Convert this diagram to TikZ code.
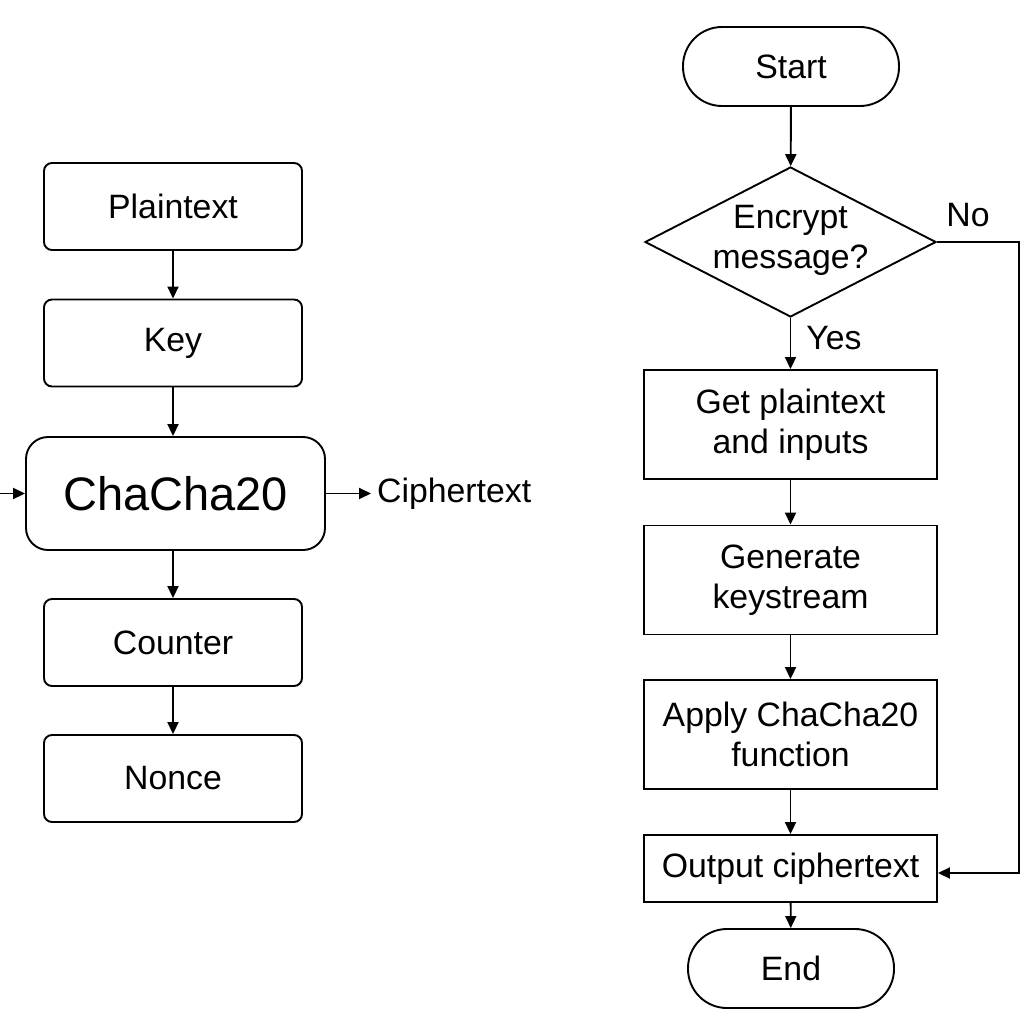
\documentclass[tikz,border=0pt]{standalone}
\usepackage{fontspec}
\setmainfont{Liberation Sans}
\usetikzlibrary{arrows.meta,shapes.geometric}
\begin{document}
\begin{tikzpicture}[x=1pt,y=-1pt,
  every node/.style={font=\fontsize{33.8}{40}\selectfont, text=black},
  box/.style={draw, line width=1.9pt, minimum width=258pt, minimum height=87pt, inner sep=0pt, rounded corners=8pt},
  proc/.style={draw, line width=1.9pt, minimum width=293pt, minimum height=109pt, inner sep=0pt, align=center},
  term/.style={draw, line width=1.9pt, minimum height=79pt, inner sep=0pt, rounded corners=39pt},
  arr/.style={line width=1.9pt, -{Triangle[length=12pt,width=11pt]}}
]
\useasboundingbox (0,0) rectangle (1024,1024);
% left chain
\node[box] (pt) at (173,206.5) {Plaintext};
\node[box] (key) at (173,343) {Key};
\node[draw, line width=1.9pt, minimum width=299pt, minimum height=113pt, inner sep=0pt, rounded corners=22pt, font=\fontsize{47}{50}\selectfont] (cc) at (175.5,493.5) {ChaCha20};
\node[box] (ctr) at (173,642.5) {Counter};
\node[box] (non) at (173,778.5) {Nonce};
\coordinate (lin) at (0,493.5);
\node[anchor=west, inner sep=0pt] (ct) at (377,493.5) {Ciphertext};
\draw[arr] (pt) -- (key);
\draw[arr] (key) -- (key |- cc.north);
\draw[arr] (key |- cc.south) -- (ctr);
\draw[arr] (ctr) -- (non);
\draw[arr] (lin) -- (cc.west);
\draw[arr] (cc.east) -- ([xshift=-6pt]ct.west);
% right flowchart
\node[term, minimum width=216pt] (start) at (791,66.5) {Start};
\node[draw, line width=1.9pt, shape=diamond, minimum width=291pt, minimum height=150pt, inner sep=0pt] (dec) at (790.5,242) {};
\node[align=center, inner sep=0pt] (dect) at (790.5,240) {Encrypt\\message?};
\node[proc] (g1) at (790.5,424.5) {Get plaintext\\and inputs};
\node[proc] (g2) at (790.5,580) {Generate\\keystream};
\node[proc] (g3) at (790.5,734.5) {Apply ChaCha20\\function};
\node[proc, minimum height=67pt] (out) at (790.5,868.5) {Output ciphertext};
\node[term, minimum width=206pt] (end) at (791,968.5) {End};
\coordinate (nr) at (1019,242);
\coordinate (nd) at (1019,873);
\draw[arr] (start) -- (dec);
\draw[arr] (dec.south) -- (g1) node[pos=0.4, right, inner sep=0pt, xshift=15pt] (yes) {Yes};
\draw[arr] (g1) -- (g2);
\draw[arr] (g2) -- (g3);
\draw[arr] (g3) -- (out);
\draw[arr] (out) -- (end);
\draw[arr] (dec.east) -- (nr) -- (nd) -- (out.east |- nd);
\node[inner sep=0pt] (no) at (968,215) {No};
\end{tikzpicture}
\end{document}
